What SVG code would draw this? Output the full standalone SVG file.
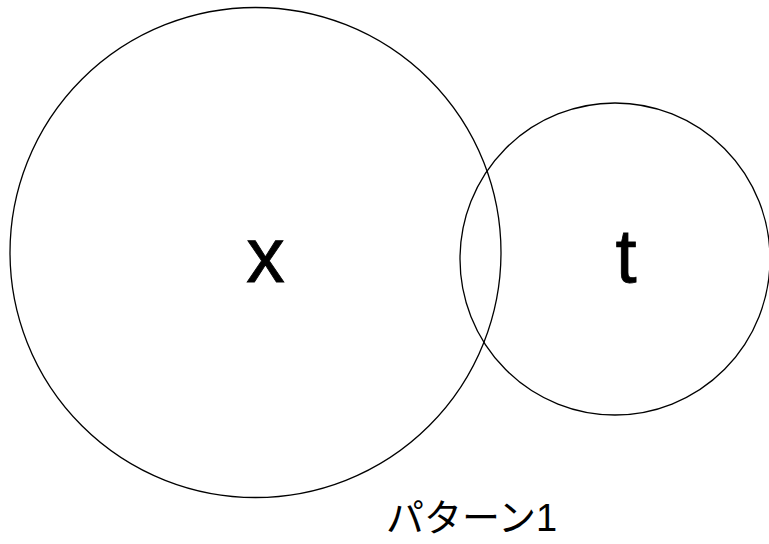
<svg xmlns="http://www.w3.org/2000/svg" width="769" height="544" viewBox="0 0 769 544">
<style>
.c{fill:none;stroke:#000;stroke-width:1.3}
.l{font-family:"Liberation Sans",Arial,sans-serif;fill:#000;stroke:#000;stroke-width:0.8}
.j{font-family:"Liberation Sans","Noto Sans CJK JP",sans-serif;fill:#000}
</style>
<rect width="769" height="544" fill="#fff"/>
<g id="node-x">
<ellipse class="c" cx="255.5" cy="252.5" rx="245.5" ry="245"/>
<text class="l" x="265.5" y="282" font-size="77" text-anchor="middle">x</text>
</g>
<g id="node-t">
<ellipse class="c" cx="615" cy="259" rx="155" ry="156"/>
<text class="l" x="626" y="282" font-size="76" text-anchor="middle">t</text>
</g>
<g id="connectors"></g>
<g id="caption">
<text class="j" x="386" y="531" font-size="38">パターン1</text>
</g>
</svg>
